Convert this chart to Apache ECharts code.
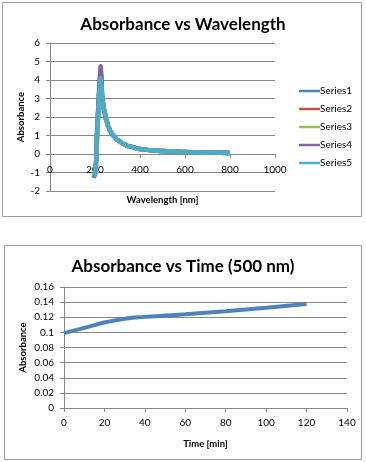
<!DOCTYPE html>
<html><head><meta charset="utf-8">
<script src="https://cdn.jsdelivr.net/npm/echarts@6/dist/echarts.min.js"></script>
<style>html,body{margin:0;padding:0;background:#fff}#c{width:366px;height:462px}</style>
</head><body><div id="c"></div>
<script>
// ---- Data: Absorbance vs Wavelength ----
const wavelengths = [195, 200, 205, 210, 215, 220, 225, 228, 232, 240, 250, 260, 270, 280, 300, 325, 350, 400, 450, 500, 550, 600, 650, 700, 750, 800];
const series1 = [-1.3, -1.1, -0.4, 1.3, 2.5, 3.7, 4.5, 4.1, 3.0, 2.4, 1.85, 1.45, 1.2, 1.0, 0.75, 0.55, 0.42, 0.27, 0.2, 0.16, 0.13, 0.11, 0.09, 0.08, 0.07, 0.06];
const series2 = [-1.2, -1.1, -0.5, 1.2, 2.4, 3.6, 4.4, 4.0, 3.0, 2.4, 1.85, 1.45, 1.2, 1.0, 0.75, 0.55, 0.42, 0.27, 0.2, 0.16, 0.13, 0.11, 0.09, 0.08, 0.07, 0.06];
const series3 = [-1.2, -1.1, -0.5, 1.2, 2.4, 3.6, 4.4, 4.0, 3.0, 2.4, 1.85, 1.45, 1.2, 1.0, 0.75, 0.55, 0.42, 0.27, 0.2, 0.16, 0.13, 0.11, 0.09, 0.08, 0.07, 0.06];
const series4 = [-1.2, -1.1, -0.4, 1.3, 2.5, 3.9, 4.75, 4.3, 3.1, 2.4, 1.85, 1.45, 1.2, 1.0, 0.75, 0.55, 0.42, 0.27, 0.2, 0.16, 0.13, 0.11, 0.09, 0.08, 0.07, 0.06];
const series5 = [-1.2, -1.1, -0.5, 1.2, 2.3, 3.5, 4.1, 3.8, 3.0, 2.4, 1.85, 1.45, 1.2, 1.0, 0.75, 0.55, 0.42, 0.27, 0.2, 0.16, 0.13, 0.11, 0.09, 0.08, 0.07, 0.06];
const seriesNames = ['Series1', 'Series2', 'Series3', 'Series4', 'Series5'];
const seriesColors = ['#4F81BD', '#C0504D', '#9BBB59', '#8064A2', '#4BACC6'];

// ---- Data: Absorbance vs Time (500 nm) ----
const times = [0, 10, 20, 30, 40, 60, 80, 100, 120];
const absorbanceTime = [0.099, 0.106, 0.113, 0.118, 0.1205, 0.124, 0.128, 0.1325, 0.1375];

const FONT = 'Lato, Open Sans, sans-serif';
const allSeries = [series1, series2, series3, series4, series5];

const chart = echarts.init(document.getElementById('c'), null, {renderer: 'canvas'});
const axisGray = '#868686';
const labelStyle = {color: '#000', fontSize: 10, fontFamily: FONT};
const nameStyle = {color: '#000', fontSize: 9.5, fontWeight: 'bold', fontFamily: FONT};
const plainNum = v => String(v);

const topLines = allSeries.map((arr, i) => ({
  name: seriesNames[i], type: 'line', xAxisIndex: 0, yAxisIndex: 0,
  data: wavelengths.map((w, j) => [w, arr[j]]),
  showSymbol: false, symbol: 'none', smooth: 0.3, smoothMonotone: 'x',
  lineStyle: {color: seriesColors[i], width: 4.5}, itemStyle: {color: seriesColors[i]},
  z: 2 + i
}));

chart.setOption({
  animation: false,
  title: [
    {text: 'Absorbance vs Wavelength', left: 'center', top: 11, textStyle: {fontSize: 17, fontWeight: 'bold', color: '#000', fontFamily: FONT}},
    {text: 'Absorbance vs Time (500 nm)', left: 'center', top: 253, textStyle: {fontSize: 17, fontWeight: 'bold', color: '#000', fontFamily: FONT}}
  ],
  graphic: [
    {type: 'rect', shape: {x: 2.5, y: 2.5, width: 359, height: 214}, style: {fill: 'none', stroke: '#9a9a9a', lineWidth: 1}, z: -1},
    {type: 'rect', shape: {x: 4.5, y: 245.5, width: 357, height: 214}, style: {fill: 'none', stroke: '#9a9a9a', lineWidth: 1}, z: -1}
  ],
  legend: {
    data: seriesNames.map(n => ({name: n, icon: 'rect'})),
    orient: 'vertical', left: 294, top: 80, itemGap: 6, itemWidth: 21, itemHeight: 2.5,
    textStyle: {fontSize: 10, color: '#000', fontFamily: FONT, lineHeight: 12, padding: [0, 0, 0, -5]}
  },
  grid: [
    {left: 50, top: 43, width: 225, height: 148},
    {left: 64, top: 287, width: 283, height: 121}
  ],
  xAxis: [
    {type: 'value', gridIndex: 0, min: 0, max: 1000, interval: 200, offset: -37,
     axisLine: {onZero: false, lineStyle: {color: axisGray}}, axisTick: {show: true, inside: false, length: 4, lineStyle: {color: axisGray}},
     axisLabel: {...labelStyle, margin: 11, formatter: plainNum}, splitLine: {show: false},
     name: 'Wavelength [nm]', nameLocation: 'middle', nameGap: 41, nameMoveOverlap: false, nameTextStyle: nameStyle},
    {type: 'value', gridIndex: 1, min: 0, max: 140, interval: 20,
     axisLine: {lineStyle: {color: axisGray}}, axisTick: {show: true, length: 4, lineStyle: {color: axisGray}},
     axisLabel: {...labelStyle, margin: 10, formatter: plainNum}, splitLine: {show: false},
     name: 'Time [min]', nameLocation: 'middle', nameGap: 31, nameMoveOverlap: false, nameTextStyle: nameStyle}
  ],
  yAxis: [
    {type: 'value', gridIndex: 0, min: -2, max: 6, interval: 1,
     axisLine: {show: true, onZero: false, lineStyle: {color: axisGray}}, axisTick: {show: true, length: 4, lineStyle: {color: axisGray}},
     axisLabel: {...labelStyle, margin: 10, formatter: plainNum}, splitLine: {show: true, lineStyle: {color: axisGray, width: 1}},
     name: 'Absorbance', nameLocation: 'middle', nameGap: 24, nameMoveOverlap: false, nameTextStyle: nameStyle},
    {type: 'value', gridIndex: 1, min: 0, max: 0.16, interval: 0.02,
     axisLine: {show: true, lineStyle: {color: axisGray}}, axisTick: {show: true, length: 4, lineStyle: {color: axisGray}},
     axisLabel: {...labelStyle, margin: 10}, splitLine: {show: true, lineStyle: {color: axisGray, width: 1}},
     name: 'Absorbance', nameLocation: 'middle', nameGap: 36, nameMoveOverlap: false, nameTextStyle: nameStyle}
  ],
  series: topLines.concat([{
    name: 'Time', type: 'line', xAxisIndex: 1, yAxisIndex: 1,
    data: times.map((t, j) => [t, absorbanceTime[j]]),
    showSymbol: false, symbol: 'none', smooth: true,
    lineStyle: {color: '#4F81BD', width: 4}, itemStyle: {color: '#4F81BD'}
  }])
});
</script></body></html>
